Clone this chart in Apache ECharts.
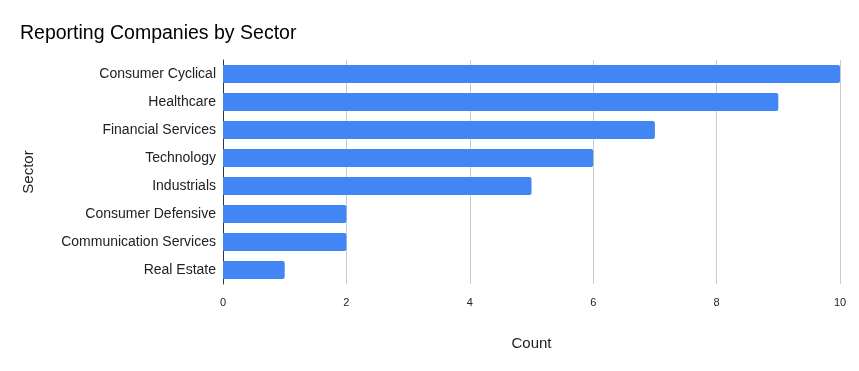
<!DOCTYPE html>
<html><head><meta charset="utf-8">
<script src="https://cdn.jsdelivr.net/npm/echarts@6/dist/echarts.min.js"></script>
<style>html,body{margin:0;padding:0;background:#fff}#c{width:859px;height:371px}</style>
</head><body><div id="c"></div>
<script>
const categories = ["Consumer Cyclical","Healthcare","Financial Services","Technology","Industrials","Consumer Defensive","Communication Services","Real Estate"];
const counts = [10,9,7,6,5,2,2,1];
const xTicks = [0,2,4,6,8,10];

const F = '"Liberation Sans", Arial, sans-serif';
const chart = echarts.init(document.getElementById('c'));
chart.setOption({
  animation:false,
  title:{text:'Reporting Companies by Sector',left:15,top:19,textStyle:{fontFamily:F,fontSize:19.5,fontWeight:'normal',color:'#000'}},
  grid:{left:223,right:19,top:60,bottom:87},
  xAxis:{type:'value',min:0,max:10,interval:2,
    name:'Count',nameLocation:'middle',nameGap:52,nameTextStyle:{fontFamily:F,fontSize:15,color:'#222'},
    axisLine:{show:false},axisTick:{show:false},
    axisLabel:{fontFamily:F,fontSize:11,color:'#222',margin:13},
    splitLine:{lineStyle:{color:'#cccccc'}}},
  yAxis:{type:'category',data:categories,inverse:true,
    name:'Sector',nameLocation:'middle',nameGap:187,nameTextStyle:{fontFamily:F,fontSize:15,color:'#222'},
    axisLine:{lineStyle:{color:'#333'}},axisTick:{show:false},
    axisLabel:{fontFamily:F,fontSize:14,color:'#222',margin:7}},
  series:[{type:'bar',data:counts,barCategoryGap:'36%',itemStyle:{color:'#4285f4',borderRadius:[0,2,2,0]}}]
});
</script></body></html>
